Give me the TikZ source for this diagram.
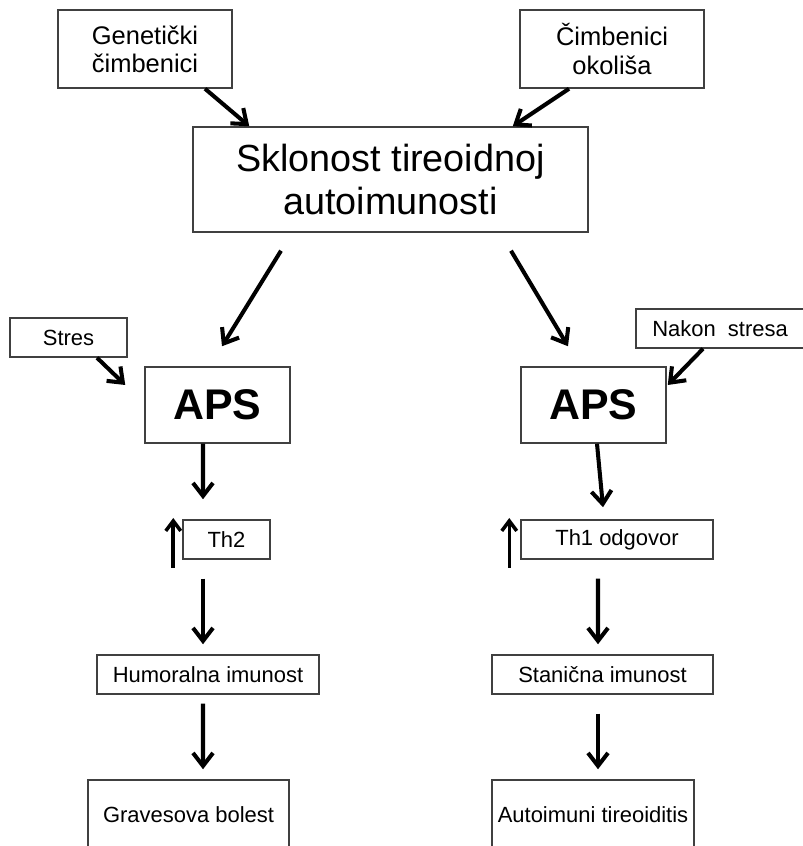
\documentclass[tikz,border=0pt]{standalone}
\usepackage{fontspec}
\setmainfont{Liberation Sans}
\usetikzlibrary{arrows.meta, positioning}

\tikzset{
  box/.style={draw=black!75, line width=0.85pt, align=center, inner sep=0pt},
  topfont/.style={font=\fontsize{14.5}{16}\selectfont},
  bigfont/.style={font=\fontsize{21.5}{24.4}\selectfont},
  apsfont/.style={font=\fontsize{24.4}{26}\selectfont\bfseries},
  smallfont/.style={font=\fontsize{12.5}{14}\selectfont},
  flow/.style={line width=2.3pt, -{Straight Barb[length=2.6mm, width=4mm]}},
  rise/.style={line width=2pt, -{Straight Barb[length=2mm, width=3mm]}}
}

\begin{document}
\begin{tikzpicture}

    \useasboundingbox (0,0) rectangle (16.06,16.92);
    \clip (0,0) rectangle (16.06,16.92);

    % ==================== TOP ROW ====================
    \node [box, topfont, minimum width=3.48cm, minimum height=1.56cm] (gen) at (2.90, 15.94) {Genetički\\čimbenici};
    \node [box, topfont, minimum width=3.68cm, minimum height=1.56cm] (env) at (12.24, 15.94) {Čimbenici\\okoliša};

    % Central box
    \node [box, bigfont, minimum width=7.9cm, minimum height=2.1cm] (skl) at (7.81, 13.33) {Sklonost tireoidnoj\\autoimunosti};

    % ==================== APS STAGE ====================
    \node [box, smallfont, minimum width=2.34cm, minimum height=0.78cm] (stres) at (1.37, 10.17) {Stres};
    \node [box, smallfont, minimum width=3.36cm, minimum height=0.78cm] (nakon) at (14.40, 10.35) {Nakon\ \ stresa};

    \node [box, apsfont, minimum width=2.9cm, minimum height=1.52cm] (apsL) at (4.35, 8.82) {APS};
    \node [box, apsfont, minimum width=2.9cm, minimum height=1.52cm] (apsR) at (11.87, 8.82) {APS};

    % ==================== LEFT BRANCH ====================
    \node [box, smallfont, minimum width=1.74cm, minimum height=0.78cm] (th2) at (4.53, 6.13) {Th2};
    \node [box, smallfont, minimum width=4.44cm, minimum height=0.78cm] (hum) at (4.16, 3.43) {Humoralna imunost};
    \node [box, smallfont, minimum width=4.02cm, minimum height=1.4cm] (grav) at (3.77, 0.62) {Gravesova bolest};

    % ==================== RIGHT BRANCH ====================
    \node [box, smallfont, minimum width=3.84cm, minimum height=0.78cm] (th1) at (12.34, 6.13) {Th1 odgovor};
    \node [box, smallfont, minimum width=4.42cm, minimum height=0.78cm] (stan) at (12.05, 3.43) {Stanična imunost};
    \node [box, smallfont, minimum width=4.04cm, minimum height=1.4cm] (auto) at (11.86, 0.62) {Autoimuni tireoiditis};

    % ==================== CONNECTIONS ====================
    % 1. Factors into the central box
    \draw [flow] ([xshift=1.2cm]gen.south) -- ([xshift=1.14cm]skl.north west);
    \draw [flow] ([xshift=-0.86cm]env.south) -- ([xshift=-1.52cm]skl.north east);

    % 2. Central box down to both APS boxes
    \draw [flow] ([xshift=-2.19cm, yshift=-0.36cm]skl.south) -- ([xshift=0.09cm, yshift=0.4cm]apsL.north);
    \draw [flow] ([xshift=2.41cm, yshift=-0.36cm]skl.south) -- ([xshift=-0.51cm, yshift=0.4cm]apsR.north);

    % 3. Stress inputs
    \draw [flow] ([xshift=0.57cm]stres.south) -- ([xshift=-0.38cm, yshift=0.4cm]apsL.west);
    \draw [flow] ([xshift=-0.34cm]nakon.south) -- ([xshift=0.02cm, yshift=0.4cm]apsR.east);

    % 4. Left chain
    \draw [flow] ([xshift=-0.29cm]apsL.south) -- ([xshift=-0.47cm, yshift=0.4cm]th2.north);
    \draw [flow] ([xshift=-0.47cm, yshift=-0.38cm]th2.south) -- ([xshift=-0.1cm, yshift=0.2cm]hum.north);
    \draw [flow] ([xshift=-0.1cm, yshift=-0.18cm]hum.south) -- ([xshift=0.29cm, yshift=0.2cm]grav.north);

    % 5. Right chain
    \draw [flow] ([xshift=0.07cm]apsR.south) -- ([xshift=-0.28cm, yshift=0.24cm]th1.north);
    \draw [flow] ([xshift=-0.38cm, yshift=-0.38cm]th1.south) -- ([xshift=-0.09cm, yshift=0.2cm]stan.north);
    \draw [flow] ([xshift=-0.09cm, yshift=-0.38cm]stan.south) -- ([xshift=0.1cm, yshift=0.2cm]auto.north);

    % 6. Rising arrows beside Th2 and Th1
    \draw [rise] ([xshift=-0.18cm, yshift=-0.57cm]th2.west) -- ([xshift=-0.18cm, yshift=0.43cm]th2.west);
    \draw [rise] ([xshift=-0.22cm, yshift=-0.57cm]th1.west) -- ([xshift=-0.22cm, yshift=0.43cm]th1.west);

\end{tikzpicture}
\end{document}
